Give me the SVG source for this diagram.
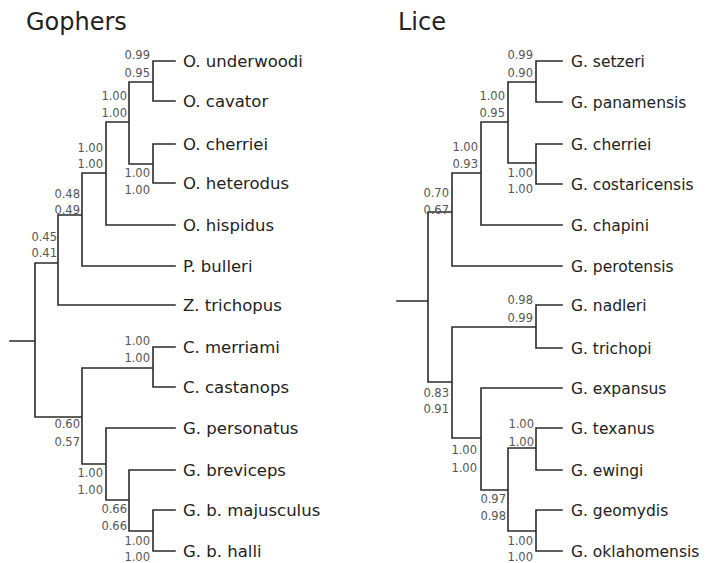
<svg xmlns="http://www.w3.org/2000/svg" width="709" height="563" viewBox="0 0 709 563">
<style>
.bg{fill:#ffffff}
.br{fill:none;stroke:#2b2b2b;stroke-width:1.6;stroke-linecap:square}
.title{font-family:"DejaVu Sans",sans-serif;font-size:24px;fill:#222}
.lg{font-family:"DejaVu Sans",sans-serif;font-size:16.5px;fill:#222}
.ll{font-family:"DejaVu Sans",sans-serif;font-size:15.5px;fill:#222}
.s{font-family:"DejaVu Sans",sans-serif;font-size:11.5px;fill:#555;text-anchor:end}
</style>
<rect class="bg" x="0" y="0" width="709" height="563"/>
<text class="title" x="26" y="30">Gophers</text>
<text class="title" x="398" y="30">Lice</text>
<g id="connectors">
<path class="br" d="M10,341H35 M35,263V417 M35,263H58 M58,215V305 M58,305H175 M58,215H82 M82,173V266 M82,266H175 M82,173H106 M106,122V225 M106,225H175 M106,122H129 M129,82V164 M129,82H153 M153,61V101 M153,61H175 M153,101H175 M129,164H153 M153,144V183 M153,144H175 M153,183H175 M35,417H82 M82,368V464 M82,368H153 M153,347V387 M153,347H175 M153,387H175 M82,464H106 M106,428V500 M106,428H175 M106,500H129 M129,470V531 M129,470H175 M129,531H153 M153,510V551 M153,510H175 M153,551H175"/>
<path class="br" d="M397,301H428 M428,212V382 M428,212H452 M452,173V266 M452,266H562 M452,173H481 M481,122V225 M481,225H562 M481,122H508 M508,82V163 M508,82H536 M536,61V102 M536,61H562 M536,102H562 M508,163H536 M536,144V184 M536,144H562 M536,184H562 M428,382H452 M452,327V438 M452,327H536 M536,305V348 M536,305H562 M536,348H562 M452,438H481 M481,388V490 M481,388H562 M481,490H508 M508,448V531 M508,448H536 M536,428V470 M536,428H562 M536,470H562 M508,531H536 M536,510V551 M536,510H562 M536,551H562"/>
</g>
<g id="gophers-leaves">
<g id="g-underwoodi"><text class="lg" x="183" y="67">O. underwoodi</text></g>
<g id="g-cavator"><text class="lg" x="183" y="107">O. cavator</text></g>
<g id="g-cherriei"><text class="lg" x="183" y="150">O. cherriei</text></g>
<g id="g-heterodus"><text class="lg" x="183" y="189">O. heterodus</text></g>
<g id="g-hispidus"><text class="lg" x="183" y="231">O. hispidus</text></g>
<g id="g-bulleri"><text class="lg" x="183" y="272">P. bulleri</text></g>
<g id="g-trichopus"><text class="lg" x="183" y="311">Z. trichopus</text></g>
<g id="g-merriami"><text class="lg" x="183" y="353">C. merriami</text></g>
<g id="g-castanops"><text class="lg" x="183" y="393">C. castanops</text></g>
<g id="g-personatus"><text class="lg" x="183" y="434">G. personatus</text></g>
<g id="g-breviceps"><text class="lg" x="183" y="476">G. breviceps</text></g>
<g id="g-majusculus"><text class="lg" x="183" y="516">G. b. majusculus</text></g>
<g id="g-halli"><text class="lg" x="183" y="557">G. b. halli</text></g>
</g>
<g id="gophers-nodes">
<g id="gn1"><text class="s" x="150" y="59">0.99</text><text class="s" x="150" y="77">0.95</text></g>
<g id="gn2"><text class="s" x="127" y="100">1.00</text><text class="s" x="127" y="117">1.00</text></g>
<g id="gn3"><text class="s" x="150" y="177">1.00</text><text class="s" x="150" y="194">1.00</text></g>
<g id="gn4"><text class="s" x="103" y="152">1.00</text><text class="s" x="103" y="168">1.00</text></g>
<g id="gn5"><text class="s" x="80" y="198">0.48</text><text class="s" x="80" y="214">0.49</text></g>
<g id="gn6"><text class="s" x="57" y="241">0.45</text><text class="s" x="57" y="257">0.41</text></g>
<g id="gn7"><text class="s" x="80" y="428">0.60</text><text class="s" x="80" y="446">0.57</text></g>
<g id="gn8"><text class="s" x="150" y="345">1.00</text><text class="s" x="150" y="362">1.00</text></g>
<g id="gn9"><text class="s" x="103" y="477">1.00</text><text class="s" x="103" y="494">1.00</text></g>
<g id="gn10"><text class="s" x="127" y="513">0.66</text><text class="s" x="127" y="530">0.66</text></g>
<g id="gn11"><text class="s" x="150" y="545">1.00</text><text class="s" x="150" y="561">1.00</text></g>
</g>
<g id="lice-leaves">
<g id="l-setzeri"><text class="ll" x="571" y="67">G. setzeri</text></g>
<g id="l-panamensis"><text class="ll" x="571" y="108">G. panamensis</text></g>
<g id="l-cherriei"><text class="ll" x="571" y="150">G. cherriei</text></g>
<g id="l-costaricensis"><text class="ll" x="571" y="190">G. costaricensis</text></g>
<g id="l-chapini"><text class="ll" x="571" y="231">G. chapini</text></g>
<g id="l-perotensis"><text class="ll" x="571" y="272">G. perotensis</text></g>
<g id="l-nadleri"><text class="ll" x="571" y="311">G. nadleri</text></g>
<g id="l-trichopi"><text class="ll" x="571" y="354">G. trichopi</text></g>
<g id="l-expansus"><text class="ll" x="571" y="394">G. expansus</text></g>
<g id="l-texanus"><text class="ll" x="571" y="434">G. texanus</text></g>
<g id="l-ewingi"><text class="ll" x="571" y="476">G. ewingi</text></g>
<g id="l-geomydis"><text class="ll" x="571" y="516">G. geomydis</text></g>
<g id="l-oklahomensis"><text class="ll" x="571" y="557">G. oklahomensis</text></g>
</g>
<g id="lice-nodes">
<g id="ln1"><text class="s" x="533" y="59">0.99</text><text class="s" x="533" y="77">0.90</text></g>
<g id="ln2"><text class="s" x="505" y="100">1.00</text><text class="s" x="505" y="117">0.95</text></g>
<g id="ln3"><text class="s" x="533" y="177">1.00</text><text class="s" x="533" y="193">1.00</text></g>
<g id="ln4"><text class="s" x="478" y="151">1.00</text><text class="s" x="478" y="168">0.93</text></g>
<g id="ln5"><text class="s" x="449" y="197">0.70</text><text class="s" x="449" y="214">0.67</text></g>
<g id="ln6"><text class="s" x="449" y="397">0.83</text><text class="s" x="449" y="413">0.91</text></g>
<g id="ln7"><text class="s" x="533" y="304">0.98</text><text class="s" x="533" y="322">0.99</text></g>
<g id="ln8"><text class="s" x="477" y="454">1.00</text><text class="s" x="477" y="472">1.00</text></g>
<g id="ln9"><text class="s" x="534" y="428">1.00</text><text class="s" x="534" y="446">1.00</text></g>
<g id="ln10"><text class="s" x="506" y="503">0.97</text><text class="s" x="506" y="520">0.98</text></g>
<g id="ln11"><text class="s" x="533" y="545">1.00</text><text class="s" x="533" y="561">1.00</text></g>
</g>
</svg>
